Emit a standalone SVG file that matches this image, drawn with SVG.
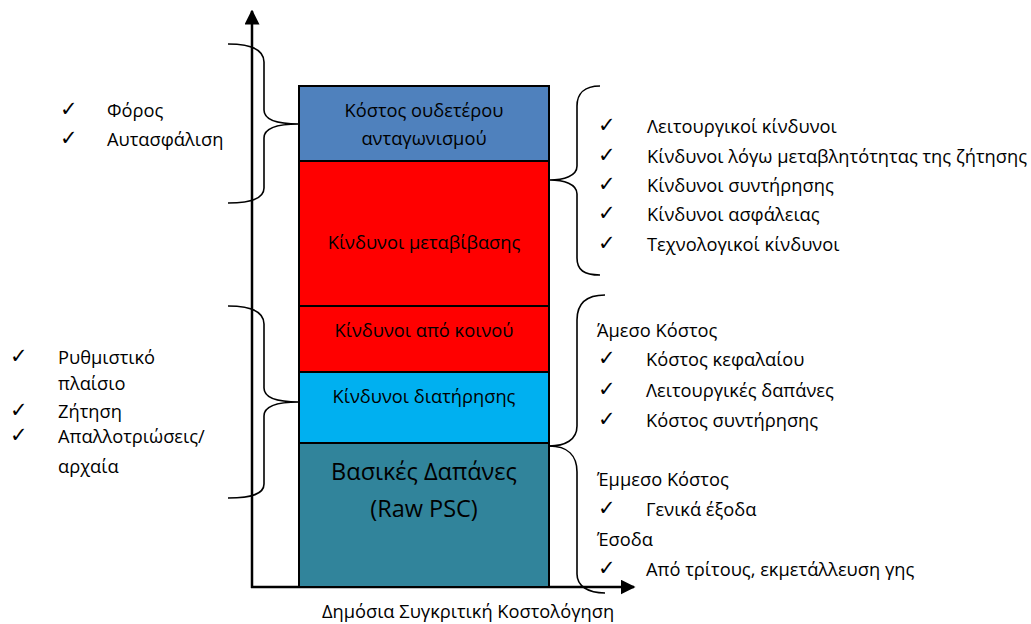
<svg xmlns="http://www.w3.org/2000/svg" width="1031" height="624" viewBox="0 0 1031 624">
<style>
text{font-family:"Open Sans","Noto Sans",sans-serif;font-size:18.3px;fill:#000}
.c{text-anchor:middle}
.big{font-size:23.5px}
.ck{font-family:"DejaVu Sans",sans-serif;font-size:21px}
.box{stroke:#000;stroke-width:2}
.br{fill:none;stroke:#000;stroke-width:1.6}
.ax{stroke:#000;stroke-width:2.5;fill:none}
</style>
<defs>
<marker id="ah" viewBox="0 0 10 10" refX="9" refY="5" markerWidth="6" markerHeight="6" orient="auto" markerUnits="strokeWidth">
<path d="M0,0 L10,5 L0,10 z" fill="#000"/>
</marker>
</defs>
<g id="axes">
<line class="ax" x1="252" y1="588" x2="252" y2="11" marker-end="url(#ah)"/>
<line class="ax" x1="251" y1="587" x2="634" y2="587" marker-end="url(#ah)"/>
<text x="468" y="618" class="c">Δημόσια Συγκριτική Κοστολόγηση</text>
</g>
<g id="box-neutral">
<rect class="box" x="299" y="86" width="250" height="75" fill="#4F81BD"/>
<text x="424" y="117" class="c">Κόστος ουδετέρου</text>
<text x="424" y="145" class="c">ανταγωνισμού</text>
</g>
<g id="box-transfer">
<rect class="box" x="299" y="161" width="250" height="145" fill="#FF0000"/>
<text x="424" y="249" class="c">Κίνδυνοι μεταβίβασης</text>
</g>
<g id="box-shared">
<rect class="box" x="299" y="306" width="250" height="66" fill="#FF0000"/>
<text x="424" y="337" class="c">Κίνδυνοι από κοινού</text>
</g>
<g id="box-retain">
<rect class="box" x="299" y="372" width="250" height="71" fill="#00B0F0"/>
<text x="424" y="403" class="c">Κίνδυνοι διατήρησης</text>
</g>
<g id="box-base">
<rect class="box" x="299" y="443" width="250" height="144" fill="#31849B"/>
<text x="424" y="480" class="c big">Βασικές Δαπάνες</text>
<text x="424" y="517" class="c big">(Raw PSC)</text>
</g>
<g id="connectors">
<path class="br" d="M228,44 C252,44 264,50 264,62 L264,110 C264,120 278,124 299,124 C278,124 264,128 264,138 L264,188 C264,198 252,203 228,203"/>
<path class="br" d="M228,306 C252,306 264,312 264,324 L264,388 C264,398 278,402 299,402 C278,402 264,406 264,416 L264,484 C264,494 252,498 228,498"/>
<path class="br" d="M600,86 C584,86 577,94 577,106 L577,166 C577,176 564,180 549,180 C564,180 577,184 577,194 L577,258 C577,270 584,275 600,275"/>
<path class="br" d="M605,295 C586,295 577,304 577,320 L577,426 C577,440 565,446 549,446"/>
<path class="br" d="M549,446 C568,446 577,456 577,472 L577,574 C577,586 588,593 605,593"/>
</g>
<g id="left-top-list">
<text x="60" y="116" class="ck">✓</text>
<text x="107" y="117">Φόρος</text>
<text x="60" y="145" class="ck">✓</text>
<text x="107" y="146">Αυτασφάλιση</text>
</g>
<g id="left-bottom-list">
<text x="10" y="363" class="ck">✓</text>
<text x="58" y="364">Ρυθμιστικό</text>
<text x="58" y="390">πλαίσιο</text>
<text x="10" y="417" class="ck">✓</text>
<text x="58" y="418">Ζήτηση</text>
<text x="10" y="442" class="ck">✓</text>
<text x="58" y="443">Απαλλοτριώσεις/</text>
<text x="58" y="473">αρχαία</text>
</g>
<g id="right-top-list">
<text x="598" y="132" class="ck">✓</text>
<text x="647" y="133">Λειτουργικοί κίνδυνοι</text>
<text x="598" y="162" class="ck">✓</text>
<text x="647" y="163">Κίνδυνοι λόγω μεταβλητότητας της ζήτησης</text>
<text x="598" y="191" class="ck">✓</text>
<text x="647" y="192">Κίνδυνοι συντήρησης</text>
<text x="598" y="220" class="ck">✓</text>
<text x="647" y="221">Κίνδυνοι ασφάλειας</text>
<text x="598" y="250" class="ck">✓</text>
<text x="647" y="251">Τεχνολογικοί κίνδυνοι</text>
</g>
<g id="right-bottom-list">
<text x="597" y="337">Άμεσο Κόστος</text>
<text x="598" y="365" class="ck">✓</text>
<text x="646" y="366">Κόστος κεφαλαίου</text>
<text x="598" y="396" class="ck">✓</text>
<text x="646" y="397">Λειτουργικές δαπάνες</text>
<text x="598" y="426" class="ck">✓</text>
<text x="646" y="427">Κόστος συντήρησης</text>
<text x="597" y="486">Έμμεσο Κόστος</text>
<text x="598" y="515" class="ck">✓</text>
<text x="646" y="516">Γενικά έξοδα</text>
<text x="597" y="546">Έσοδα</text>
<text x="598" y="575" class="ck">✓</text>
<text x="646" y="576">Από τρίτους, εκμετάλλευση γης</text>
</g>
</svg>
